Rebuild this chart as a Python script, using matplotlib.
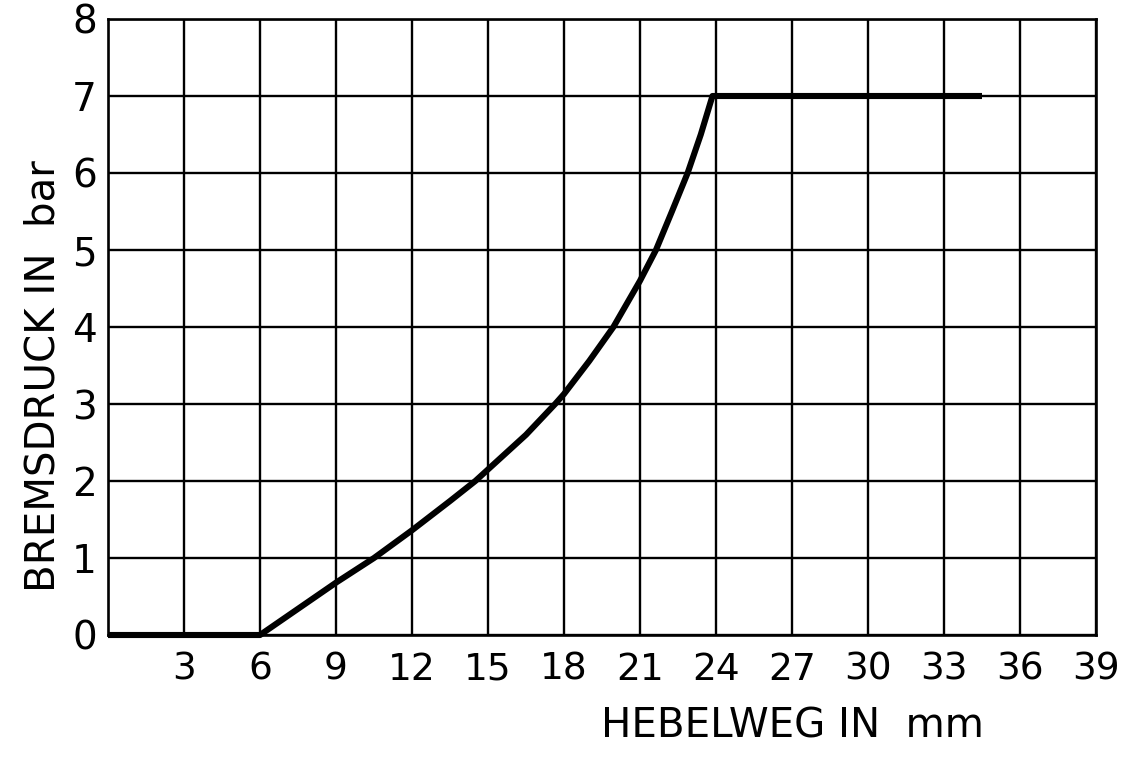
import matplotlib
matplotlib.use("Agg")
import matplotlib.pyplot as plt

# Data
hebelweg = [0, 6, 7.5, 9, 10.5, 12, 13.5, 14.5, 15, 16.5, 17.65, 18, 19.0, 19.95, 21, 21.63, 22.26, 22.88, 23.4, 23.86, 34.5]
bremsdruck = [0.0, 0.0, 0.34, 0.68, 1.0, 1.36, 1.74, 2.0, 2.15, 2.6, 3.0, 3.13, 3.56, 4.0, 4.6, 5.0, 5.5, 6.0, 6.5, 7.0, 7.0]
x_ticks = [3, 6, 9, 12, 15, 18, 21, 24, 27, 30, 33, 36, 39]
y_ticks = [0, 1, 2, 3, 4, 5, 6, 7, 8]
x_label = "HEBELWEG IN  mm"
y_label = "BREMSDRUCK IN  bar"

plt.rcParams['font.family'] = ['DejaVu Sans']

fig = plt.figure(figsize=(11.43, 7.65), dpi=100)
ax = fig.add_axes([108/1143, 1 - 635/765, (1096-108)/1143, (635-19)/765])

ax.set_xlim(0, 39)
ax.set_ylim(0, 8)
ax.set_xticks(x_ticks)
ax.set_yticks(y_ticks)
ax.set_xticklabels([str(t) for t in x_ticks], fontsize=27)
ax.set_yticklabels([str(t) for t in y_ticks], fontsize=28)
ax.tick_params(length=0, pad=8)
ax.tick_params(axis='x', pad=12)

ax.grid(True, color='black', linewidth=1.7)
for s in ax.spines.values():
    s.set_linewidth(1.9)
    s.set_color('black')
ax.set_axisbelow(True)

ax.plot(hebelweg, bremsdruck, color='black', linewidth=4.4, solid_capstyle='butt',
        solid_joinstyle='round', clip_on=False, zorder=5)

fig.text(792/1143, 1 - 726/765, x_label, fontsize=29, ha='center', va='center')
fig.text(44/1143, 1 - 376/765, y_label, fontsize=29, ha='center', va='center', rotation=90)

fig.savefig("out.png", dpi=100)
